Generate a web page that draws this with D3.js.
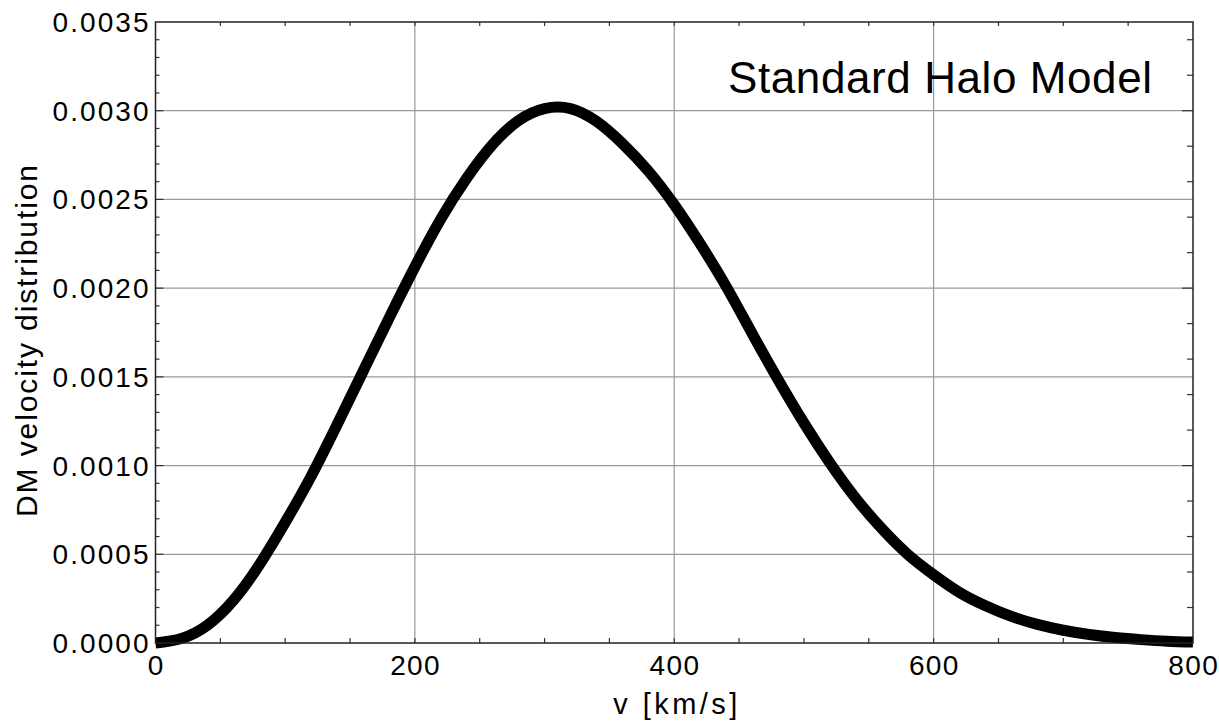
<!DOCTYPE html>
<html>
<head>
<meta charset="utf-8">
<script src="https://cdn.jsdelivr.net/npm/d3@7"></script>
<style>
body{margin:0;background:#fff;}
text{font-family:"Liberation Sans",Arial,sans-serif;fill:#000;}
</style>
</head>
<body>
<div id="svg-container"></div>
<script>
// data (v in km/s, f = DM velocity distribution)
var speeds=[0,20,40,60,80,100,120,140,160,180,200,220,240,260,280,300,320,340,360,380,400,
	420,440,460,480,500,520,540,560,580,600,620,640,660,680,700,720,740,760,780,800];
var fvals=[0,0.000025,0.00010,0.00024,0.00044,0.00068,0.00094,0.00123,0.00153,0.00183,0.00212,
	0.00239,0.00262,0.00281,0.002945,0.003012,0.003012,0.00294,0.002815,0.00266,0.00247,
	0.00225,0.00201,0.001745,0.001485,0.00124,0.001015,0.000815,0.000645,0.00050,0.000385,
	0.000285,0.00021,0.00015,0.000105,0.000072,0.000048,0.000031,0.000019,0.00001,0.000005];
var xTicks=[0,200,400,600,800];
var yTicks=[0,0.0005,0.0010,0.0015,0.0020,0.0025,0.0030,0.0035];
var label="Standard Halo Model";
var xTitle="v [km/s]";
var yTitle="DM velocity distribution";

//全域設定
var width=1219,height=722;
var margin={left:155.5,right:26,top:22,bottom:79};

var svg=d3.select('#svg-container').append('svg')
	.attr('width',width).attr('height',height);

var x=d3.scaleLinear().domain([0,800]).range([margin.left,width-margin.right]);
var y=d3.scaleLinear().domain([0,0.0035]).range([height-margin.bottom,margin.top]);

//格線
var grid=svg.append('g');
grid.selectAll('.gx').data(xTicks.slice(1,-1)).enter().append('line')
	.attr('x1',function(d){return x(d)}).attr('x2',function(d){return x(d)})
	.attr('y1',y(0)).attr('y2',y(0.0035))
	.attr('stroke','#9a9a9a').attr('stroke-width',1.2);
grid.selectAll('.gy').data(yTicks.slice(1,-1)).enter().append('line')
	.attr('y1',function(d){return y(d)}).attr('y2',function(d){return y(d)})
	.attr('x1',x(0)).attr('x2',x(800))
	.attr('stroke','#9a9a9a').attr('stroke-width',1.2);

//小刻度 (inside the frame)
var xMinor=d3.range(50,800,50);
var yMinorL=d3.range(1,35).map(function(i){return i*0.0001});
var yMinorR=d3.range(1,18).map(function(i){return i*0.0002});
var tk=svg.append('g').attr('stroke','#333').attr('stroke-width',1.2);
tk.selectAll('.b').data(xMinor).enter().append('line')
	.attr('x1',function(d){return x(d)}).attr('x2',function(d){return x(d)})
	.attr('y1',y(0)).attr('y2',y(0)-5);
tk.selectAll('.t').data(xMinor).enter().append('line')
	.attr('x1',function(d){return x(d)}).attr('x2',function(d){return x(d)})
	.attr('y1',y(0.0035)).attr('y2',y(0.0035)+4);
tk.selectAll('.l').data(yMinorL).enter().append('line')
	.attr('y1',function(d){return y(d)}).attr('y2',function(d){return y(d)})
	.attr('x1',x(0)).attr('x2',function(d){return x(0)+(Math.round(d*10000)%5==0?8:4)});
tk.selectAll('.r').data(yMinorR).enter().append('line')
	.attr('y1',function(d){return y(d)}).attr('y2',function(d){return y(d)})
	.attr('x1',x(800)).attr('x2',function(d){return x(800)-(Math.round(d*10000)%5==0?11:6)});

//曲線
var line=d3.line()
	.x(function(d,i){return x(speeds[i])})
	.y(function(d){return y(d)})
	.curve(d3.curveNatural);
svg.append('path').datum(fvals)
	.attr('d',line)
	.attr('fill','none')
	.attr('stroke','#000')
	.attr('stroke-width',11)
	.attr('stroke-linejoin','round');

//外框
svg.append('rect')
	.attr('x',x(0)).attr('y',y(0.0035))
	.attr('width',x(800)-x(0)).attr('height',y(0)-y(0.0035))
	.attr('fill','none').attr('stroke','#222').attr('stroke-width',1.5);

//刻度文字
svg.append('g').selectAll('text').data(yTicks).enter().append('text')
	.text(function(d){return d.toFixed(4)})
	.attr('x',x(0)-7)
	.attr('y',function(d){return y(d)+10})
	.attr('text-anchor','end')
	.attr('font-size',28)
	.attr('textLength',96).attr('lengthAdjust','spacing');
svg.append('g').selectAll('text').data(xTicks).enter().append('text')
	.text(function(d){return d})
	.attr('x',function(d){return x(d)})
	.attr('y',y(0)+32)
	.attr('text-anchor','middle')
	.attr('font-size',28)
	.attr('textLength',function(d){return String(d).length*16.5})
	.attr('lengthAdjust','spacing');

//軸標題
svg.append('text').text(xTitle)
	.attr('x',(x(0)+x(800))/2+1).attr('y',714)
	.attr('text-anchor','middle')
	.attr('font-size',29)
	.attr('textLength',124).attr('lengthAdjust','spacing');
svg.append('text').text(yTitle)
	.attr('transform','translate(37,341) rotate(-90)')
	.attr('text-anchor','middle')
	.attr('font-size',30)
	.attr('textLength',352).attr('lengthAdjust','spacing');

//圖內標籤
svg.append('text').text(label)
	.attr('x',728).attr('y',93)
	.attr('font-size',44)
	.attr('textLength',424).attr('lengthAdjust','spacing');
</script>
</body>
</html>
